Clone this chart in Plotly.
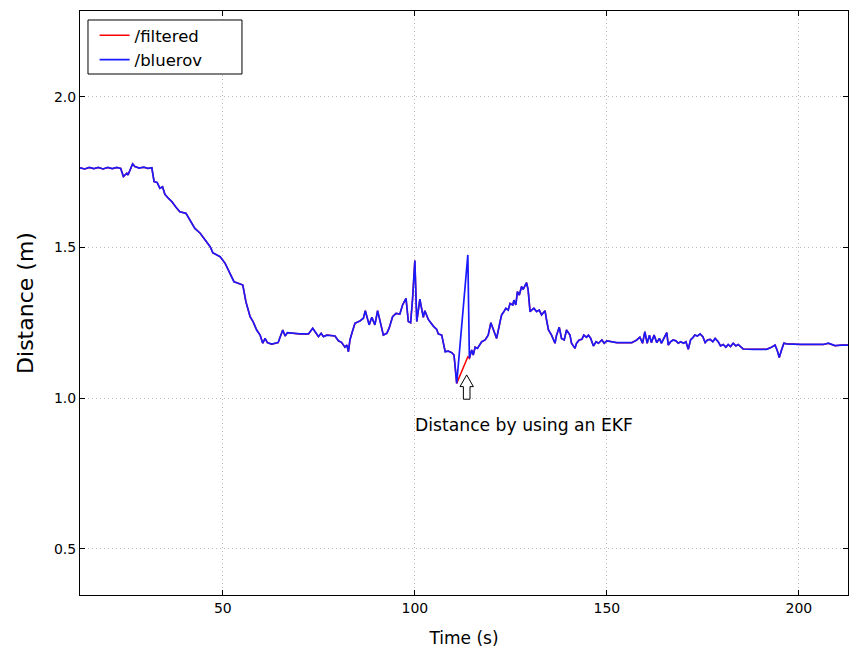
import plotly.graph_objects as go

# ---- data ----
time_s = [
    12.8, 14.0, 15.2, 16.4, 17.6, 18.8, 20.0, 21.2, 22.4, 23.4,
    24.1, 25.0, 25.3, 25.8, 26.5, 27.1, 28.2, 29.4, 30.5, 31.5,
    32.1, 32.9, 33.6, 34.3, 34.9, 35.8, 36.7, 37.8, 38.4, 38.8,
    40.4, 41.4, 42.7, 44.1, 45.4, 46.7, 47.4, 48.4, 49.3, 50.6,
    51.9, 52.9, 54.0, 55.2, 56.0, 57.1, 57.9, 58.8, 59.7, 60.4,
    61.0, 61.6, 62.7, 64.4, 65.6, 66.2, 66.8, 68.3, 70.1, 72.3,
    73.4, 74.3, 74.9, 75.6, 76.2, 77.1, 79.2, 80.1, 80.9, 81.8,
    82.3, 82.7, 83.1, 83.6, 84.4, 85.7, 86.6, 87.1, 87.6, 88.1,
    88.8, 89.6, 90.3, 90.9, 91.8, 92.7, 93.3, 94.2, 95.1, 96.1,
    96.8, 97.7, 98.3, 98.9, 99.4, 100.0, 100.5, 101.3, 102.2, 102.6,
    103.5, 104.8, 105.7, 106.1, 107.0, 107.9, 108.7, 109.6, 110.2, 110.9,
    113.8, 114.2, 114.8, 115.2, 115.7, 116.3, 116.8, 117.4, 118.3, 119.1,
    119.8, 120.4, 121.3, 122.2, 122.6, 123.2, 123.7, 124.3, 124.8, 125.5,
    125.8, 126.3, 126.7, 127.2, 127.8, 128.2, 129.1, 129.5, 130.0, 130.4,
    131.0, 131.7, 132.4, 133.0, 133.9, 134.3, 134.8, 135.6, 136.5, 136.9,
    137.6, 138.2, 138.9, 139.5, 140.4, 140.8, 141.7, 142.1, 142.8, 143.5,
    144.0, 144.7, 145.2, 145.8, 146.5, 147.2, 147.8, 148.7, 149.3, 150.0,
    151.3, 152.6, 154.3, 156.5, 157.8, 158.6, 159.3, 159.9, 160.5, 161.1,
    161.6, 162.3, 163.0, 163.7, 164.2, 164.9, 165.6, 166.0, 166.6, 167.3,
    168.0, 168.6, 169.2, 170.0, 170.6, 171.2, 171.8, 172.5, 172.9, 173.6,
    174.3, 175.0, 175.6, 176.2, 176.9, 177.6, 178.2, 179.0, 179.6, 180.3,
    181.0, 181.6, 182.2, 182.9, 183.6, 184.2, 184.8, 185.5, 188.1, 191.6,
    192.9, 193.8, 194.4, 194.9, 195.5, 196.1, 196.8, 198.6, 200.3, 203.8,
    206.4, 207.7, 208.5, 209.4, 211.2, 213.3,
]

bluerov_m = [
    1.764, 1.760, 1.765, 1.761, 1.765, 1.760, 1.765, 1.761, 1.765, 1.762,
    1.735, 1.746, 1.740, 1.755, 1.777, 1.768, 1.763, 1.766, 1.762, 1.764,
    1.718, 1.715, 1.696, 1.701, 1.676, 1.663, 1.652, 1.633, 1.624, 1.618,
    1.613, 1.589, 1.563, 1.547, 1.525, 1.502, 1.482, 1.475, 1.469, 1.447,
    1.414, 1.386, 1.381, 1.375, 1.320, 1.270, 1.253, 1.226, 1.209, 1.182,
    1.198, 1.184, 1.179, 1.184, 1.226, 1.206, 1.217, 1.215, 1.213, 1.213,
    1.232, 1.215, 1.204, 1.215, 1.204, 1.209, 1.206, 1.190, 1.185, 1.169,
    1.176, 1.154, 1.193, 1.215, 1.248, 1.256, 1.265, 1.290, 1.268, 1.243,
    1.268, 1.243, 1.290, 1.260, 1.209, 1.215, 1.232, 1.270, 1.281, 1.279,
    1.309, 1.331, 1.254, 1.250, 1.328, 1.456, 1.254, 1.328, 1.268, 1.290,
    1.261, 1.239, 1.228, 1.213, 1.209, 1.154, 1.156, 1.151, 1.143, 1.049,
    1.475, 1.132, 1.160, 1.143, 1.169, 1.165, 1.176, 1.187, 1.193, 1.209,
    1.250, 1.226, 1.198, 1.254, 1.276, 1.287, 1.298, 1.292, 1.314, 1.309,
    1.325, 1.309, 1.353, 1.342, 1.370, 1.361, 1.383, 1.359, 1.287, 1.292,
    1.298, 1.287, 1.292, 1.276, 1.290, 1.259, 1.226, 1.209, 1.182, 1.209,
    1.235, 1.198, 1.193, 1.226, 1.209, 1.182, 1.165, 1.182, 1.193, 1.195,
    1.209, 1.202, 1.209, 1.198, 1.173, 1.187, 1.182, 1.193, 1.182, 1.190,
    1.187, 1.184, 1.184, 1.184, 1.193, 1.202, 1.182, 1.220, 1.182, 1.209,
    1.184, 1.209, 1.184, 1.198, 1.182, 1.201, 1.217, 1.176, 1.187, 1.193,
    1.190, 1.182, 1.187, 1.182, 1.187, 1.162, 1.193, 1.202, 1.209, 1.206,
    1.213, 1.204, 1.184, 1.193, 1.195, 1.187, 1.198, 1.187, 1.173, 1.178,
    1.169, 1.178, 1.171, 1.182, 1.173, 1.178, 1.171, 1.163, 1.162, 1.162,
    1.169, 1.176, 1.157, 1.135, 1.160, 1.182, 1.180, 1.178, 1.178, 1.178,
    1.178, 1.182, 1.178, 1.174, 1.176, 1.176,
]

# The EKF output follows the raw signal except at the outlier at t = 113.8 s
filtered_spike_time = 113.8
filtered_spike_value = 1.137
filtered_m = [filtered_spike_value if t == filtered_spike_time else v
              for t, v in zip(time_s, bluerov_m)]

x_ticks = [50, 100, 150, 200]
y_ticks = [0.5, 1.0, 1.5, 2.0]
series_names = ["/filtered", "/bluerov"]
annotation_text = "Distance by using an EKF"
x_title = "Time (s)"
y_title = "Distance (m)"

FONT = "DejaVu Sans"

fig = go.Figure()
fig.add_trace(go.Scatter(
    x=time_s, y=filtered_m, mode="lines", name=series_names[0],
    line=dict(color="#ff0000", width=1.5),
))
fig.add_trace(go.Scatter(
    x=time_s, y=bluerov_m, mode="lines", name=series_names[1],
    line=dict(color="#1a1aff", width=1.7),
))

# annotation text
fig.add_annotation(
    x=128.4, y=0.911, xref="x", yref="y", text=annotation_text,
    showarrow=False, font=dict(family=FONT, size=17.2, color="black"),
)
# hollow arrow, pixel-sized, anchored under the filtered dip
fig.add_shape(
    type="path", xref="x", yref="y", xsizemode="pixel", ysizemode="pixel",
    xanchor=113.5, yanchor=1.077,
    path="M0,0 L6.7,-11.7 L3.3,-11.7 L3.3,-24.3 L-3.3,-24.3 L-3.3,-11.7 L-6.7,-11.7 Z",
    line=dict(color="black", width=1), fillcolor="white",
)
# legend frame (wider than plotly's auto-sized box, as in the reference)
fig.add_shape(
    type="rect", xref="paper", yref="paper",
    x0=0.0104, x1=0.2109, y0=0.8921, y1=0.9846,
    line=dict(color="black", width=1), fillcolor="white", layer="above",
)

axis_common = dict(
    showline=True, linecolor="black", linewidth=1, mirror="ticks",
    ticks="inside", ticklen=5, tickcolor="black", tickwidth=1,
    showgrid=True, gridcolor="#bdbdbd", griddash="1px,3px", gridwidth=1,
    zeroline=False, tickfont=dict(family=FONT, size=14, color="black"),
)

fig.update_layout(
    width=849, height=648,
    margin=dict(l=80, r=1, t=11, b=53),
    paper_bgcolor="white", plot_bgcolor="white",
    font=dict(family=FONT, color="black"),
    xaxis=dict(
        range=[12.8, 212.8], tickvals=x_ticks,
        title=dict(text=x_title, font=dict(family=FONT, size=17), standoff=18),
        **axis_common,
    ),
    yaxis=dict(
        range=[0.347, 2.284], tickvals=y_ticks, tickformat=".1f",
        title=dict(text=y_title, font=dict(family=FONT, size=22), standoff=14),
        **axis_common,
    ),
    legend=dict(
        x=0.019, y=0.988, xanchor="left", yanchor="top",
        bgcolor="rgba(0,0,0,0)", borderwidth=0,
        font=dict(family=FONT, size=16.5, color="black"),
        tracegroupgap=0,
    ),
    showlegend=True,
)

fig.write_html(
    "out.html",
    config={"displayModeBar": False},
    post_script="document.body.style.margin='0';document.body.style.overflow='hidden';",
)
